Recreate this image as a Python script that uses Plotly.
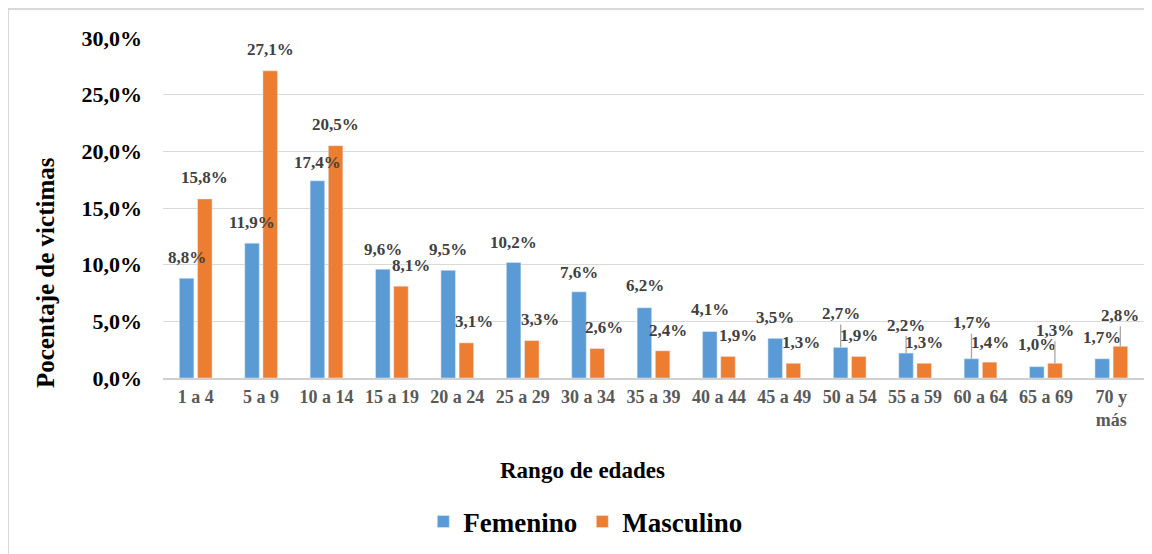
import plotly.graph_objects as go

categories = ["1 a 4", "5 a 9", "10 a 14", "15 a 19", "20 a 24", "25 a 29", "30 a 34",
              "35 a 39", "40 a 44", "45 a 49", "50 a 54", "55 a 59", "60 a 64", "65 a 69",
              "70 y<br>más"]
femenino = [8.8, 11.9, 17.4, 9.6, 9.5, 10.2, 7.6, 6.2, 4.1, 3.5, 2.7, 2.2, 1.7, 1.0, 1.7]
masculino = [15.8, 27.1, 20.5, 8.1, 3.1, 3.3, 2.6, 2.4, 1.9, 1.3, 1.9, 1.3, 1.4, 1.3, 2.8]
y_ticks = [0, 5, 10, 15, 20, 25, 30]

# label placement styling (pixels): vertical offset above bar top, horizontal nudge, leader line
fem_dy = [21, 21, 18, 20, 21, 20, 19, 22, 22, 21, 34, 28, 36, 22, 21]
mas_dy = [21, 21, 21, 21, 21, 21, 21, 20, 21, 21, 21, 21, 20, 33, 31]
fem_dx = [0] * 15
mas_dx = [0, 0, 0, 10, 8, 8, 7, 5, 10, 8, 0, 0, 0, 0, 0]
fem_leader = [False] * 10 + [True, True, True, False, False]
mas_leader = [False] * 13 + [True, True]

FONT = "Liberation Serif"
BLUE = "#5B9BD5"
ORANGE = "#ED7D31"

def fmt(v):
    return f"{v:.1f}%".replace(".", ",")

fig = go.Figure()
fig.add_trace(go.Bar(name="Femenino", x=categories, y=femenino, marker_color=BLUE))
fig.add_trace(go.Bar(name="Masculino", x=categories, y=masculino, marker_color=ORANGE))

annotations = []
for vals, dys, dxs, leads, shift in [(femenino, fem_dy, fem_dx, fem_leader, -9),
                                     (masculino, mas_dy, mas_dx, mas_leader, 9)]:
    for c, v, dy, dx, lead in zip(categories, vals, dys, dxs, leads):
        annotations.append(dict(
            x=c, y=v, xref="x", yref="y", text=fmt(v),
            showarrow=True, ax=dx, ay=-dy, axref="pixel", ayref="pixel",
            arrowhead=0, arrowwidth=1.3 if lead else 0.1,
            arrowcolor="#A6A6A6" if lead else "rgba(0,0,0,0)",
            xshift=shift, standoff=0,
            font=dict(family=FONT, size=17, color="#404040", weight="bold"),
        ))

annotations.append(dict(
    x=-0.1192, y=0.309, xref="paper", yref="paper", text="Pocentaje de victimas",
    textangle=-90, showarrow=False, xanchor="center", yanchor="middle",
    font=dict(family=FONT, size=25, color="#000000", weight="bold")))
annotations.append(dict(
    x=0.4275, y=-0.2706, xref="paper", yref="paper", text="Rango de edades",
    showarrow=False, xanchor="center", yanchor="middle",
    font=dict(family=FONT, size=23, color="#000000", weight="bold")))

border = dict(color="#D9D9D9", width=2)
fig.update_layout(
    width=1144, height=546,
    margin=dict(l=155, r=8, t=30, b=176),
    paper_bgcolor="white", plot_bgcolor="white",
    separators=",.",
    barmode="group", bargap=0.444, bargroupgap=0.2,
    annotations=annotations,
    showlegend=True,
    legend=dict(orientation="h", x=0.431, y=-0.4235, xanchor="center", yanchor="middle",
                font=dict(family=FONT, size=27, color="#000000", weight="bold"),
                itemwidth=30),
    shapes=[
        dict(type="line", xref="paper", yref="paper", x0=-0.158, x1=1.02,
             y0=1.085, y1=1.085, line=border, layer="below"),
        dict(type="line", xref="paper", yref="paper", x0=-0.158, x1=-0.158,
             y0=-0.52, y1=1.085, line=border, layer="below"),
    ],
)
fig.update_xaxes(
    showline=True, linecolor="#D0D0D0", linewidth=2, showgrid=False,
    tickfont=dict(family=FONT, size=18, color="#595959", weight="bold"),
    ticklabelstandoff=1,
)
fig.update_yaxes(
    range=[0, 30], tickvals=y_ticks, ticktext=[fmt(t) for t in y_ticks],
    showgrid=True, gridcolor="#D9D9D9", gridwidth=1, zeroline=False,
    tickfont=dict(family=FONT, size=22, color="#000000", weight="bold"),
    ticklabelstandoff=20,
)

fig.write_html("out.html")
